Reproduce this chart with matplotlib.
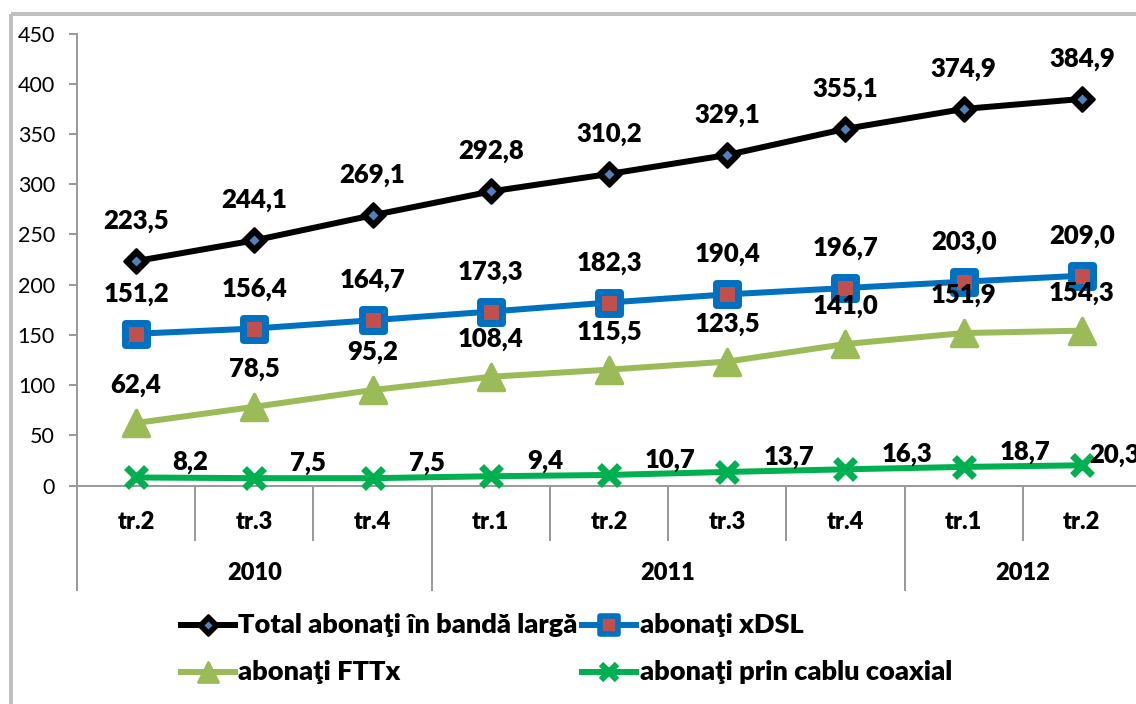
import matplotlib
matplotlib.use('Agg')
import matplotlib.pyplot as plt
from matplotlib.lines import Line2D
from matplotlib.markers import MarkerStyle
from matplotlib.patches import Rectangle
import matplotlib.transforms as mtransforms

# ---- data ----
quarters = ['tr.2', 'tr.3', 'tr.4', 'tr.1', 'tr.2', 'tr.3', 'tr.4', 'tr.1', 'tr.2']
years = ['2010', '2011', '2012']
year_spans = [(0, 3), (3, 7), (7, 9)]
total = [223.5, 244.1, 269.1, 292.8, 310.2, 329.1, 355.1, 374.9, 384.9]
xdsl = [151.2, 156.4, 164.7, 173.3, 182.3, 190.4, 196.7, 203.0, 209.0]
fttx = [62.4, 78.5, 95.2, 108.4, 115.5, 123.5, 141.0, 151.9, 154.3]
coax = [8.2, 7.5, 7.5, 9.4, 10.7, 13.7, 16.3, 18.7, 20.3]
yticks = [0, 50, 100, 150, 200, 250, 300, 350, 400, 450]
legend_labels = ['Total abonaţi în bandă largă', 'abonaţi xDSL',
                 'abonaţi FTTx', 'abonaţi prin cablu coaxial']

plt.rcParams['font.family'] = ['Lato', 'DejaVu Sans']
WEIGHT = 'heavy'

W, H = 1136, 704
fig = plt.figure(figsize=(W / 100, H / 100), dpi=100)
px = mtransforms.Affine2D().scale(1 / W, -1 / H).translate(0, 1) + fig.transFigure
P = 72 / 100  # pixels -> points

GRAY = '#9A9A9A'
BLACK = '#000000'
BLUE = '#0070C0'
RED = '#C0504D'
LBLUE = '#4F81BD'
LGREEN = '#9BBB59'
GREEN = '#00B050'

# border
fig.add_artist(Rectangle((11, 14), 1300, 900, transform=px, fill=False,
                         ec='#BFBFBF', lw=4 * P, clip_on=False))

x0, x1 = 77, 1141
y0, y1 = 485.7, 33.5
ax = fig.add_axes([x0 / W, 1 - y0 / H, (x1 - x0) / W, (y0 - y1) / H])
ax.set_xlim(0, 9)
ax.set_ylim(0, 450)
for s in ['top', 'right']:
    ax.spines[s].set_visible(False)
for s in ['left', 'bottom']:
    ax.spines[s].set_color(GRAY)
    ax.spines[s].set_linewidth(2 * P)
ax.set_xticks([])
ax.set_yticks(yticks)
ax.set_yticklabels([str(v) for v in yticks])
ax.tick_params(axis='y', length=8 * P, width=2 * P, color=GRAY, pad=14 * P,
               labelsize=15.5)
ax.patch.set_alpha(0)

xs = [i + 0.5 for i in range(len(quarters))]
LW = 6 * P


def fmt(v):
    return f"{v:.1f}".replace('.', ',')


mk_D = MarkerStyle('D', joinstyle='round')
mk_s = MarkerStyle('s', joinstyle='round')
mk_t = MarkerStyle('^', joinstyle='round')
mk_x = MarkerStyle('x', capstyle='butt')

ax.plot(xs, total, color=BLACK, lw=LW, marker=mk_D, ms=12.5, mfc=BLACK,
        mec=BLACK, mew=2, zorder=8, clip_on=False)
ax.plot(xs, total, ls='none', marker='D', ms=5.3, mfc=LBLUE, mec='none',
        zorder=9, clip_on=False)
ax.plot(xs, xdsl, color=BLUE, lw=LW, marker=mk_s, ms=15.5, mfc=RED, mec=BLUE,
        mew=5, zorder=7, clip_on=False)
ax.plot(xs, fttx, color=LGREEN, lw=LW, marker=mk_t, ms=19, mfc=LGREEN,
        mec=LGREEN, mew=2.5, zorder=6, clip_on=False)
ax.plot(xs, coax, color=GREEN, lw=LW, marker=mk_x, ms=14.5, mec=GREEN,
        mew=5, zorder=6, clip_on=False)

lab = dict(fontsize=18.5, fontweight=WEIGHT, color='black', va='center',
           textcoords='offset points', annotation_clip=False, zorder=10)
for xi, v in zip(xs, total):
    ax.annotate(fmt(v), (xi, v), xytext=(0, 40 * P), ha='center', **lab)
for xi, v in zip(xs, xdsl):
    ax.annotate(fmt(v), (xi, v), xytext=(0, 40 * P), ha='center', **lab)
for xi, v in zip(xs, fttx):
    ax.annotate(fmt(v), (xi, v), xytext=(0, 38 * P), ha='center', **lab)
for i, (xi, v) in enumerate(zip(xs, coax)):
    dx = 36 if i < len(coax) - 1 else 7
    dy = 15 if i < len(coax) - 1 else 10
    ax.annotate(fmt(v), (xi, v), xytext=(dx * P, dy * P), ha='left', **lab)

# category axis
blend = mtransforms.blended_transform_factory(ax.transData, px)
for i, q in enumerate(quarters):
    ax.text(i + 0.5, 522, q, transform=blend, ha='center', va='center',
            fontsize=17, fontweight=WEIGHT)
for yr, (a, b) in zip(years, year_spans):
    ax.text((a + b) / 2, 573, yr, transform=blend, ha='center', va='center',
            fontsize=17, fontweight=WEIGHT)
bounds = set()
for a, b in year_spans:
    bounds.add(a)
    bounds.add(b)
for k in range(len(quarters) + 1):
    ybot = 590 if k in bounds else 540
    fig.add_artist(Line2D([k, k], [y0, ybot], transform=blend, color=GRAY,
                          lw=2 * P, clip_on=False))

# legend
entries = [
    (181, 235, 208, 238, 625, 0),
    (582, 636, 609, 640, 625, 1),
    (181, 235, 208, 238, 672, 2),
    (582, 636, 609, 640, 672, 3),
]
for lx0, lx1, mx, tx, ly, k in entries:
    if k == 0:
        fig.add_artist(Line2D([lx0, lx1], [ly, ly], transform=px, color=BLACK, lw=LW))
        fig.add_artist(Line2D([mx], [ly], transform=px, ls='none', marker=mk_D,
                              ms=10, mfc=BLACK, mec=BLACK, mew=2))
        fig.add_artist(Line2D([mx], [ly], transform=px, ls='none', marker='D',
                              ms=4, mfc=LBLUE, mec='none'))
    elif k == 1:
        fig.add_artist(Line2D([lx0, lx1], [ly, ly], transform=px, color=BLUE, lw=LW))
        fig.add_artist(Line2D([mx], [ly], transform=px, ls='none', marker=mk_s,
                              ms=12.5, mfc=RED, mec=BLUE, mew=4))
    elif k == 2:
        fig.add_artist(Line2D([lx0, lx1], [ly, ly], transform=px, color=LGREEN, lw=LW))
        fig.add_artist(Line2D([mx], [ly], transform=px, ls='none', marker=mk_t,
                              ms=15, mfc=LGREEN, mec=LGREEN, mew=2))
    else:
        fig.add_artist(Line2D([lx0, lx1], [ly, ly], transform=px, color=GREEN, lw=LW))
        fig.add_artist(Line2D([mx], [ly], transform=px, ls='none', marker=mk_x,
                              ms=12, mec=GREEN, mew=4.5))
    fig.text(tx, ly, legend_labels[k], transform=px, ha='left', va='center',
             fontsize=19.5, fontweight=WEIGHT)

fig.savefig('out.png', dpi=100)
